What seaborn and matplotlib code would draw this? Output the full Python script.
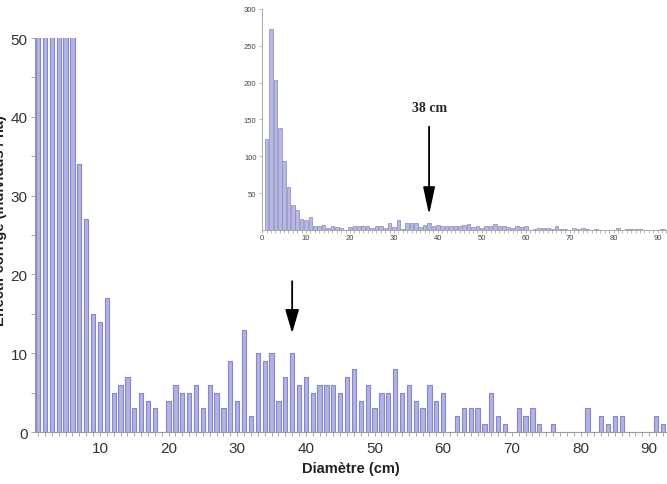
import matplotlib
matplotlib.use("Agg")
import matplotlib.pyplot as plt
from matplotlib.ticker import MultipleLocator
import numpy as np
import pandas as pd
import seaborn as sns

# -------------------------------------------------------------------------
# DATA: corrected stem counts per diameter class (1 cm classes)
# -------------------------------------------------------------------------
diametre = list(range(1, 93))
effectif = [
    123, 273, 204, 138, 93, 59, 34, 27, 15, 14,      # 1-10
    17, 5, 6, 7, 3, 5, 4, 3, 0, 4,                   # 11-20
    6, 5, 5, 6, 3, 6, 5, 3, 9, 4,                    # 21-30
    13, 2, 10, 9, 10, 4, 7, 10, 6, 7,                # 31-40
    5, 6, 6, 6, 5, 7, 8, 4, 6, 3,                    # 41-50
    5, 5, 8, 5, 6, 4, 3, 6, 4, 5,                    # 51-60
    0, 2, 3, 3, 3, 1, 5, 2, 1, 0,                    # 61-70
    3, 2, 3, 1, 0, 1, 0, 0, 0, 0,                    # 71-80
    3, 0, 2, 1, 2, 2, 0, 0, 0, 0,                    # 81-90
    2, 1,                                            # 91-92
]
main_xticks = [10, 20, 30, 40, 50, 60, 70, 80, 90]
main_yticks = [0, 10, 20, 30, 40, 50]
inset_xticks = [0, 10, 20, 30, 40, 50, 60, 70, 80, 90]
inset_yticks = [50, 100, 150, 200, 250, 300]
seuil = 38  # diameter pointed by the arrows

df = pd.DataFrame({"diametre": diametre, "effectif": effectif})

# -------------------------------------------------------------------------
# FIGURE
# -------------------------------------------------------------------------
sns.set_theme(style="white")
plt.rcParams["font.family"] = ["Liberation Sans", "DejaVu Sans"]

fig = plt.figure(figsize=(6.67, 4.85), dpi=100)
bar_face = "#b2b2e6"
bar_edge = "#8686cc"
grey = "#9a9a9a"

# main axes
ax = fig.add_axes([0.052, 0.107, 0.947, 0.8124])
sns.barplot(data=df, x="diametre", y="effectif", native_scale=True,
            width=0.62, color=bar_face, edgecolor=bar_edge, linewidth=0.8,
            saturation=1, errorbar=None, ax=ax)
ax.set_xlim(0.5, 92.5)
ax.set_ylim(0, 50)
ax.set_xticks(main_xticks)
ax.set_yticks(main_yticks)
ax.xaxis.set_minor_locator(MultipleLocator(1))
ax.yaxis.set_minor_locator(MultipleLocator(5))
ax.tick_params(axis="both", which="both", direction="out", colors=grey,
               labelcolor="#333333", labelsize=11)
ax.tick_params(axis="x", which="both", length=3, width=0.6, bottom=True)
ax.tick_params(axis="y", which="major", length=3, width=0.6, left=True, pad=2)
ax.tick_params(axis="y", which="minor", length=3, width=0.6, left=True)
for side in ["top", "right"]:
    ax.spines[side].set_visible(False)
for side in ["left", "bottom"]:
    ax.spines[side].set_color(grey)
    ax.spines[side].set_linewidth(0.8)
ax.set_xlabel("Diamètre (cm)", fontsize=10.5, fontweight="bold",
              color="#222222", labelpad=4)
ax.set_ylabel("")
# y label sits half outside the left edge, as in the source figure
fig.text(0.0, 1 - 221 / 485, "Effectif corrigé (individus / ha)",
         rotation=90, ha="center", va="center", fontsize=10.5,
         fontweight="bold", color="#222222")
ax.annotate("", xy=(seuil, 12.2), xytext=(seuil, 19.5),
            arrowprops=dict(arrowstyle="-|>,head_width=0.35,head_length=1.2",
                            color="black", lw=1.3))

# inset axes
ins = fig.add_axes([0.393, 0.5237, 0.606, 0.4557])
ins.set_facecolor("white")
sns.barplot(data=df, x="diametre", y="effectif", native_scale=True,
            width=0.82, color="#b8b8e8", edgecolor="#8a8ab0", linewidth=0.5,
            saturation=1, errorbar=None, ax=ins)
ins.set_xlim(0, 92)
ins.set_ylim(0, 300)
ins.set_xticks(inset_xticks)
ins.set_yticks(inset_yticks)
ins.xaxis.set_minor_locator(MultipleLocator(1))
ins.tick_params(axis="both", which="both", direction="out", colors=grey,
                labelcolor="#444444", labelsize=5.5)
ins.tick_params(axis="x", which="both", length=2, width=0.5, bottom=True, pad=1)
ins.tick_params(axis="y", which="major", length=2, width=0.5, left=True, pad=2)
for side in ["top", "right"]:
    ins.spines[side].set_visible(False)
for side in ["left", "bottom"]:
    ins.spines[side].set_color(grey)
    ins.spines[side].set_linewidth(0.6)
ins.set_xlabel("")
ins.set_ylabel("")
ins.annotate("", xy=(seuil, 17), xytext=(seuil, 144),
             arrowprops=dict(arrowstyle="-|>,head_width=0.3,head_length=1.4",
                             color="black", lw=1.3))
ins.text(seuil, 157, "38 cm", ha="center", va="bottom", fontsize=10,
         fontweight="bold", family=["Liberation Serif", "DejaVu Serif"])

fig.savefig("out.png", dpi=100)
